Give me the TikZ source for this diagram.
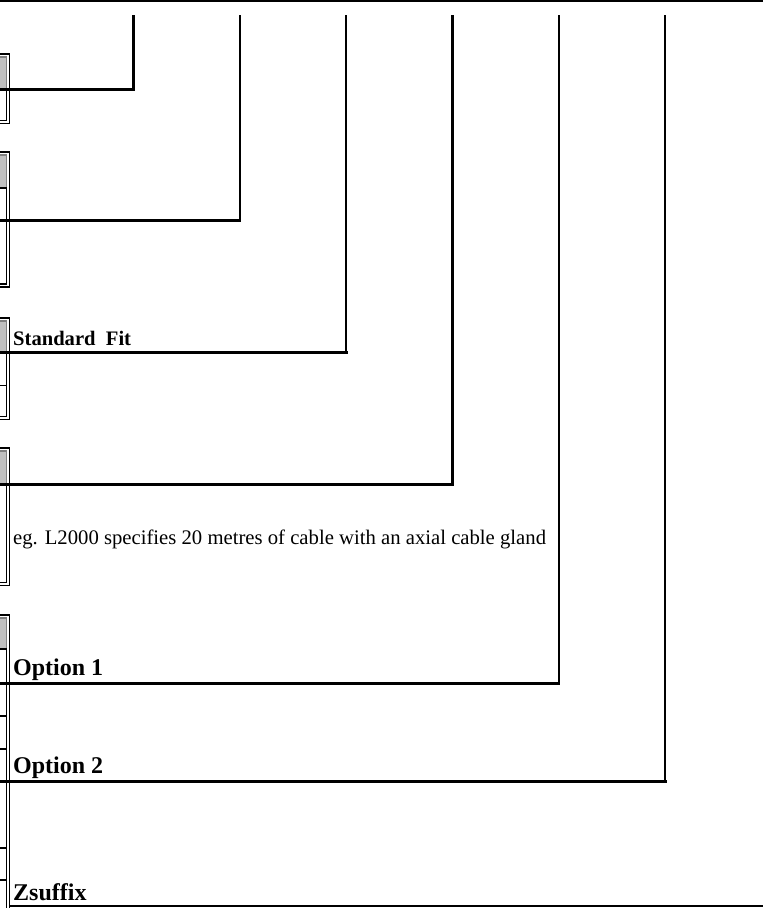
\documentclass[tikz,border=0pt]{standalone}
\usepackage{fontspec}
\setmainfont{Liberation Serif}
\definecolor{headgray}{RGB}{192,192,192}
\definecolor{edgegray}{RGB}{128,128,128}
\begin{document}
\begin{tikzpicture}[x=1pt,y=-1pt,
  conn/.style={line width=3pt, line cap=rect},
  vline/.style={line width=2.2pt},
  topline/.style={line width=2pt},
  outerb/.style={line width=1.3pt},
  innerb/.style={line width=1.1pt},
  lblreg/.style={anchor=base west, inner sep=0pt, font=\fontsize{20.7}{24}\selectfont},
  lblsmall/.style={anchor=base west, inner sep=0pt, font=\bfseries\fontsize{20.6}{24}\selectfont},
  lblbig/.style={anchor=base west, inner sep=0pt, font=\bfseries\fontsize{24}{28}\selectfont}
]
\useasboundingbox (0,0) rectangle (763,908);
\clip (0,0) rectangle (763,908);

% top rule
\coordinate (tl) at (0,1);
\coordinate (tr) at (763,1);
\draw[topline] (tl) -- (tr);

% left-hand table boxes (cut off at the left edge)
\foreach \t/\h/\b in {54/88.5/123.3, 152/188/287, 318/352/419.5, 448/484/585.5, 615/649/930} {
  \fill[headgray] (-5,\t+3) rectangle (6.8,\h);
  \draw[outerb] (-5,\t) -| (9.8,\b) -- (-5,\b);
  \draw[innerb] (-5,\b-3) -| (6.8,\h);
  \draw[innerb, edgegray] (-5,\t+3) -| (6.8,\h);
  \draw[innerb] (-5,\h) -- (6.8,\h);
}
% row separators inside the boxes
\foreach \r in {385.5, 716, 749, 848, 880} {
  \draw[innerb] (-5,\r) -- (6.8,\r);
}

% connectors: vertical from top, then horizontal into the box
\foreach \i/\vx/\hy in {1/133.5/89, 2/239.8/220.5, 3/346.1/352, 4/452.4/484.5, 5/558.7/683, 6/665/781} {
  \coordinate (t\i) at (\vx,15);
  \coordinate (c\i) at (\vx,\hy);
  \coordinate (e\i) at (0,\hy);
  \draw[vline] (t\i) -- (c\i);
  \draw[conn] (e\i) -- (c\i);
}

% bottom rule of the Zsuffix cell
\coordinate (bl) at (9.8,906);
\coordinate (br) at (763,906);
\draw[outerb] (bl) -- (br);

% labels
\node[lblsmall] (sf) at (13,345) {Standard~~Fit};
\node[lblreg] (eg) at (13,544) {eg. L2000 specifies 20 metres of cable with an axial cable gland};
\node[lblbig] (op1) at (13,675) {Option 1};
\node[lblbig] (op2) at (13,773) {Option 2};
\node[lblbig] (zs) at (13,900) {Zsuffix};
\end{tikzpicture}
\end{document}
